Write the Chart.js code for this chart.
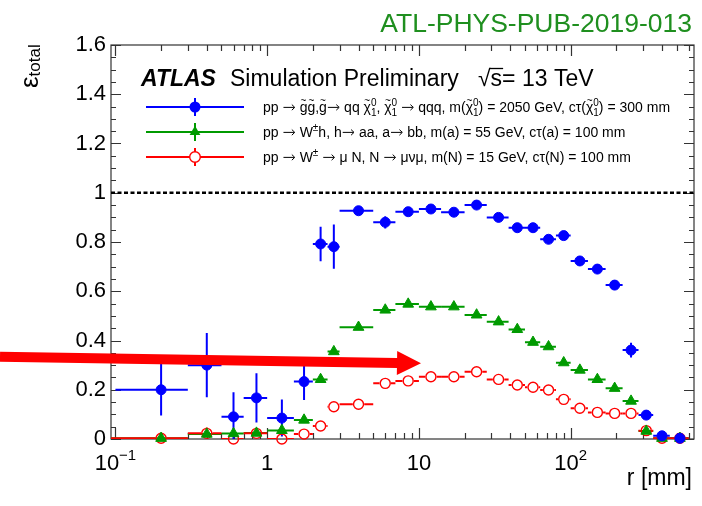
<!DOCTYPE html>
<html>
<head>
<meta charset="utf-8">
<script src="https://cdn.jsdelivr.net/npm/chart.js@4.4.1/dist/chart.umd.min.js"></script>
<style>
  html, body { margin: 0; padding: 0; background: #fff; }
  #wrap { width: 702px; height: 506px; }
</style>
</head>
<body>
<div id="wrap"><canvas id="eff" width="702" height="506"></canvas></div>
<script>
// efficiency vs transverse decay radius r [mm], three LLP signal samples
const binEdges = [0.1, 0.3, 0.5, 0.7, 1.0, 1.5, 2.0, 2.5, 3.0, 5, 7, 10, 14, 20, 28, 39, 50, 63, 80, 100, 130, 170, 220, 280, 350, 450, 600];
const rCenters = [0.2, 0.4, 0.6, 0.85, 1.25, 1.75, 2.25, 2.75, 4, 6, 8.5, 12, 17, 24, 33.5, 44.5, 56.5, 71.5, 90, 115, 150, 195, 250, 315, 400, 525];

const effGluino = [0.20, 0.30, 0.09, 0.167, 0.085, 0.233, 0.792, 0.781, 0.927, 0.88, 0.923, 0.934, 0.921, 0.95, 0.90, 0.858, 0.858, 0.811, 0.826, 0.723, 0.69, 0.625, 0.361, 0.097, 0.013, 0.003];
const errGluino = [0.105, 0.13, 0.10, 0.10, 0.075, 0.075, 0.07, 0.09, 0.015, 0.025, 0.015, 0.01, 0.01, 0.01, 0.015, 0.01, 0.01, 0.015, 0.015, 0.02, 0.02, 0.02, 0.03, 0.015, 0.01, 0.005];

const effWh = [0.003, 0.02, 0.022, 0.024, 0.035, 0.077, 0.242, 0.355, 0.454, 0.524, 0.548, 0.537, 0.537, 0.504, 0.476, 0.445, 0.393, 0.375, 0.31, 0.28, 0.242, 0.206, 0.154, 0.032, 0.003, 0.003];
const errWh = [0.003, 0.01, 0.01, 0.01, 0.01, 0.01, 0.01, 0.01, 0.008, 0.006, 0.005, 0.005, 0.005, 0.005, 0.005, 0.005, 0.005, 0.005, 0.005, 0.005, 0.005, 0.005, 0.005, 0.005, 0.003, 0.003];

const effHnl = [0.003, 0.023, 0.0, 0.023, 0.0, 0.02, 0.053, 0.131, 0.141, 0.226, 0.236, 0.253, 0.253, 0.273, 0.242, 0.219, 0.21, 0.199, 0.161, 0.125, 0.108, 0.104, 0.104, 0.034, 0.003, 0.003];
const errHnl = [0.003, 0.025, 0.01, 0.015, 0.01, 0.012, 0.01, 0.01, 0.008, 0.006, 0.005, 0.005, 0.005, 0.005, 0.005, 0.005, 0.005, 0.005, 0.005, 0.005, 0.005, 0.005, 0.005, 0.005, 0.003, 0.003];

const yTicks = [0, 0.2, 0.4, 0.6, 0.8, 1.0, 1.2, 1.4, 1.6];
const yTickLabels = ['0', '0.2', '0.4', '0.6', '0.8', '1', '1.2', '1.4', '1.6'];
const xDecades = [0.1, 1, 10, 100];
const xTickLabels = [['10', '\u22121'], ['1', ''], ['10', ''], ['10', '2']];

const R_MIN = 0.0935, R_MAX = 650;
const FONT = '"Liberation Sans", Arial, Helvetica, sans-serif';
const BLUE = '#0000ff', GREEN = '#009a00', RED = '#ff0000';

function points(vals, errs) {
  return vals.map((v, i) => ({ x: rCenters[i], y: v, err: errs[i] }));
}

// ROOT-style frame with inward ticks on all four sides plus the y = 1 reference line
const frame = {
  id: 'frame',
  beforeDatasetsDraw(chart) {
    const { ctx, chartArea: a, scales: { x, y } } = chart;
    ctx.save();
    ctx.strokeStyle = '#333';
    ctx.lineWidth = 1.2;
    ctx.strokeRect(a.left, a.top, a.right - a.left, a.bottom - a.top);
    ctx.beginPath();
    for (let k = 0; k <= 32; k++) {
      const py = Math.round(y.getPixelForValue(k * 0.05)) + 0.5;
      const len = k % 4 === 0 ? 10 : 5;
      ctx.moveTo(a.left, py); ctx.lineTo(a.left + len, py);
      ctx.moveTo(a.right, py); ctx.lineTo(a.right - len, py);
    }
    for (let e = -2; e <= 3; e++) {
      for (let m = 1; m <= 9; m++) {
        const v = m * Math.pow(10, e);
        if (v <= R_MIN || v >= R_MAX) continue;
        const px = Math.round(x.getPixelForValue(v)) + 0.5;
        const len = m === 1 ? 11 : 6;
        ctx.moveTo(px, a.bottom); ctx.lineTo(px, a.bottom - len);
        ctx.moveTo(px, a.top); ctx.lineTo(px, a.top + len);
      }
    }
    ctx.stroke();

    const p1 = y.getPixelForValue(1);
    ctx.strokeStyle = '#000';
    ctx.lineWidth = 2.5;
    ctx.setLineDash([4, 2.5]);
    ctx.beginPath();
    ctx.moveTo(a.left, p1); ctx.lineTo(a.right, p1);
    ctx.stroke();
    ctx.restore();
  }
};

// horizontal bars span the bin, vertical bars the stat error
const errorBars = {
  id: 'errorBars',
  beforeDatasetsDraw(chart) {
    const { ctx, chartArea: a, scales: { x, y } } = chart;
    ctx.save();
    ctx.beginPath();
    ctx.rect(a.left, a.top, a.right - a.left, a.bottom - a.top);
    ctx.clip();
    chart.data.datasets.forEach(ds => {
      ctx.strokeStyle = ds.borderColor;
      ctx.lineWidth = 2;
      const gap = ds.hollow ? ds.pointRadius + 0.7 : 0;
      ds.data.forEach((p, i) => {
        const px = x.getPixelForValue(p.x), py = y.getPixelForValue(p.y);
        const lo = x.getPixelForValue(i === 0 && ds.fromAxis ? R_MIN : binEdges[i]);
        const hi = x.getPixelForValue(binEdges[i + 1]);
        const up = y.getPixelForValue(p.y + p.err), dn = y.getPixelForValue(p.y - p.err);
        ctx.beginPath();
        if (px - gap > lo) { ctx.moveTo(lo, py); ctx.lineTo(px - gap, py); }
        if (hi > px + gap) { ctx.moveTo(px + gap, py); ctx.lineTo(hi, py); }
        if (py - gap > up) { ctx.moveTo(px, py - gap); ctx.lineTo(px, up); }
        if (dn > py + gap) { ctx.moveTo(px, py + gap); ctx.lineTo(px, dn); }
        ctx.stroke();
      });
    });
    ctx.restore();
  }
};

// thin TLatex-like right arrow, returns its advance
function drawArrowGlyph(ctx, x, y, size) {
  const w = size * 0.95, ay = y - size * 0.33;
  ctx.save();
  ctx.strokeStyle = ctx.fillStyle;
  ctx.lineWidth = 1;
  ctx.beginPath();
  ctx.moveTo(x + 1, ay); ctx.lineTo(x + w - 1.5, ay);
  ctx.moveTo(x + w - size * 0.28, ay - size * 0.2); ctx.lineTo(x + w - 1, ay); ctx.lineTo(x + w - size * 0.28, ay + size * 0.2);
  ctx.stroke();
  ctx.restore();
  return w;
}

// text with simple ROOT-like super/subscripts, tildes and arrows
function drawRich(ctx, parts, x, y, size) {
  const big = size + 'px ' + FONT;
  const small = Math.round(size * 0.72) + 'px ' + FONT;
  ctx.textAlign = 'left';
  ctx.textBaseline = 'alphabetic';
  for (const p of parts) {
    if (typeof p === 'string') {
      p.split(/(\u2192)/).forEach(seg => {
        if (!seg) return;
        if (seg === '\u2192') { x += drawArrowGlyph(ctx, x, y, size); return; }
        ctx.font = big;
        ctx.fillText(seg, x, y);
        x += ctx.measureText(seg).width;
      });
    } else if (p.til) {
      ctx.font = big;
      const w = ctx.measureText(p.til).width;
      ctx.fillText(p.til, x, y);
      ctx.font = small;
      const tw = ctx.measureText('~').width;
      ctx.fillText('~', x + (w - tw) / 2, y - size * 0.55);
      x += w;
    } else {
      ctx.font = small;
      let w = 0;
      if (p.sup) { ctx.fillText(p.sup, x, y - size * 0.45); w = ctx.measureText(p.sup).width; }
      if (p.sub) { ctx.fillText(p.sub, x, y + size * 0.3); w = Math.max(w, ctx.measureText(p.sub).width); }
      x += w;
    }
  }
  return x;
}

function marker(ctx, style, color, x, y, r) {
  ctx.beginPath();
  if (style === 'triangle') {
    for (let k = 0; k < 3; k++) {
      const ang = k * 2 * Math.PI / 3;
      const fx = x + Math.sin(ang) * r, fy = y - Math.cos(ang) * r;
      k === 0 ? ctx.moveTo(fx, fy) : ctx.lineTo(fx, fy);
    }
    ctx.closePath();
  } else {
    ctx.arc(x, y, r, 0, 2 * Math.PI);
  }
  if (style === 'open') {
    ctx.fillStyle = '#fff'; ctx.fill();
    ctx.strokeStyle = color; ctx.lineWidth = 1.4; ctx.stroke();
  } else {
    ctx.fillStyle = color; ctx.fill();
  }
}

const chi = [{ til: '\u03c7' }, { sup: '0', sub: '1' }];
const legendRows = [
  { color: BLUE, style: 'circle', r: 5.5, y: 107,
    text: ['pp \u2192 ', { til: 'g' }, { til: 'g' }, ',', { til: 'g' }, '\u2192 qq ', ...chi, ', ', ...chi, ' \u2192 qqq, m(', ...chi, ') = 2050 GeV, c\u03c4(', ...chi, ') = 300 mm'] },
  { color: GREEN, style: 'triangle', r: 6.2, y: 132,
    text: ['pp \u2192 W', { sup: '\u00b1' }, 'h, h\u2192 aa, a\u2192 bb, m(a) = 55 GeV, c\u03c4(a) = 100 mm'] },
  { color: RED, style: 'open', r: 5.3, y: 157,
    text: ['pp \u2192 W', { sup: '\u00b1' }, ' \u2192 \u03bc N, N \u2192 \u03bc\u03bd\u03bc, m(N) = 15 GeV, c\u03c4(N) = 100 mm'] }
];

const overlay = {
  id: 'overlay',
  afterDraw(chart) {
    const { ctx, scales: { x } } = chart;
    ctx.save();
    ctx.fillStyle = '#000';

    // x tick labels with exponents
    xDecades.forEach((v, i) => {
      const [base, exp] = xTickLabels[i];
      ctx.font = '22px ' + FONT;
      const wb = ctx.measureText(base).width;
      ctx.font = '15px ' + FONT;
      const we = exp ? ctx.measureText(exp).width : 0;
      const x0 = x.getPixelForValue(v) - (wb + we) / 2;
      ctx.font = '22px ' + FONT;
      ctx.fillText(base, x0, 470);
      if (exp) { ctx.font = '15px ' + FONT; ctx.fillText(exp, x0 + wb, 460); }
    });

    ctx.font = '23px ' + FONT;
    ctx.textAlign = 'right';
    ctx.fillText('r [mm]', 692, 485);
    ctx.textAlign = 'left';

    // y title, rotated
    ctx.save();
    ctx.translate(38, 88);
    ctx.rotate(-Math.PI / 2);
    ctx.font = '26px ' + FONT;
    ctx.fillText('\u03b5', 0, 0);
    const we = ctx.measureText('\u03b5').width;
    ctx.font = '17px ' + FONT;
    ctx.fillText('total', we, 2);
    ctx.restore();

    // note id
    ctx.fillStyle = '#1f8f1f';
    ctx.font = '26.5px ' + FONT;
    ctx.textAlign = 'right';
    ctx.fillText('ATL-PHYS-PUB-2019-013', 692, 32);
    ctx.textAlign = 'left';

    // experiment label
    ctx.fillStyle = '#000';
    ctx.font = 'italic bold 23px ' + FONT;
    ctx.fillText('ATLAS', 141, 86);
    ctx.font = '23px ' + FONT;
    ctx.fillText('Simulation Preliminary', 230, 86);
    ctx.fillText('\u221a', 478, 86);
    const ws = ctx.measureText('\u221a').width;
    ctx.fillText('s= 13 TeV', 478 + ws, 86);
    const wss = ctx.measureText('s').width;
    ctx.lineWidth = 1.3;
    ctx.strokeStyle = '#000';
    ctx.beginPath();
    ctx.moveTo(478 + ws - 1, 68.5); ctx.lineTo(478 + ws + wss + 1, 68.5);
    ctx.stroke();

    // legend
    legendRows.forEach(row => {
      ctx.strokeStyle = row.color;
      ctx.lineWidth = 2;
      ctx.beginPath();
      ctx.moveTo(146, row.y); ctx.lineTo(244, row.y);
      ctx.moveTo(195, row.y - 9); ctx.lineTo(195, row.y + 9);
      ctx.stroke();
      marker(ctx, row.style, row.color, 195, row.y, row.r);
      ctx.fillStyle = '#000';
      drawRich(ctx, row.text, 263, row.y + 5, 14);
    });

    // red pointer arrow
    const x0 = 0, y0 = 356.7, x1 = 421, y1 = 363.3;
    const L = Math.hypot(x1 - x0, y1 - y0);
    ctx.translate(x0, y0);
    ctx.rotate(Math.atan2(y1 - y0, x1 - x0));
    ctx.beginPath();
    ctx.moveTo(0, -5); ctx.lineTo(L - 24, -5); ctx.lineTo(L - 24, -12); ctx.lineTo(L, 0);
    ctx.lineTo(L - 24, 12); ctx.lineTo(L - 24, 5); ctx.lineTo(0, 5);
    ctx.closePath();
    ctx.fillStyle = RED;
    ctx.fill();
    ctx.restore();
  }
};

new Chart(document.getElementById('eff'), {
  type: 'scatter',
  data: {
    datasets: [
      { data: points(effGluino, errGluino), borderColor: BLUE, backgroundColor: BLUE,
        pointStyle: 'circle', pointRadius: 5, pointBorderWidth: 1, clip: false },
      { data: points(effWh, errWh), borderColor: GREEN, backgroundColor: GREEN, fromAxis: true,
        pointStyle: 'triangle', pointRadius: 6.2, pointBorderWidth: 1, clip: false },
      { data: points(effHnl, errHnl), borderColor: RED, backgroundColor: 'rgba(255,255,255,0)', fromAxis: true, hollow: true,
        pointStyle: 'circle', pointRadius: 5, pointBorderWidth: 1.4, clip: false }
    ]
  },
  options: {
    responsive: false,
    animation: false,
    devicePixelRatio: 1,
    layout: { padding: { top: 45, right: 8, left: 0, bottom: 0 } },
    plugins: { legend: { display: false }, tooltip: { enabled: false } },
    scales: {
      x: {
        type: 'logarithmic', min: R_MIN, max: R_MAX,
        grid: { display: false }, border: { display: false },
        ticks: { display: false },
        afterFit(s) { s.height = 67; }
      },
      y: {
        min: 0, max: 1.6,
        grid: { display: false, drawTicks: false }, border: { display: false },
        ticks: { font: { family: FONT, size: 22 }, color: '#000', padding: 5,
                 callback: (v, i) => yTickLabels[i] },
        afterBuildTicks(s) { s.ticks = yTicks.map(v => ({ value: v })); },
        afterFit(s) { s.width = 111; }
      }
    }
  },
  plugins: [frame, errorBars, overlay]
});
</script>
</body>
</html>
